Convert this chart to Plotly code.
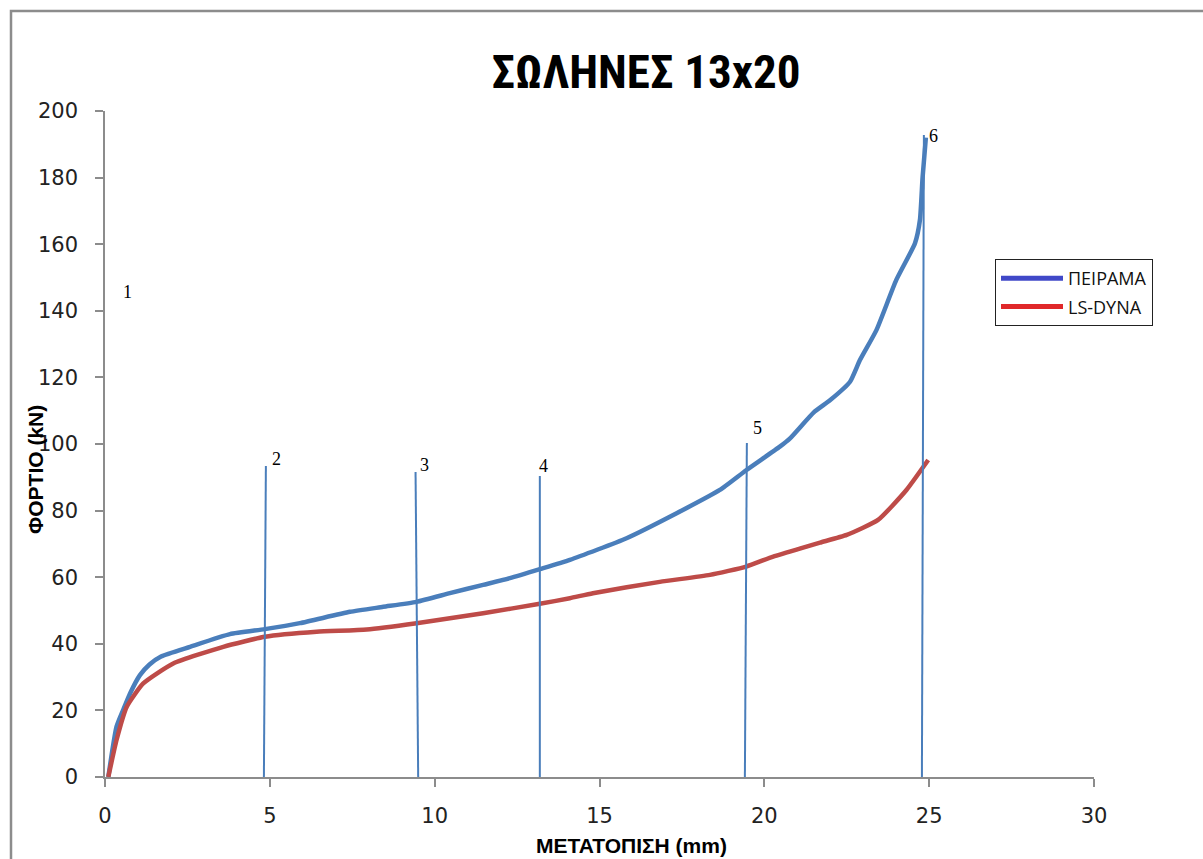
import plotly.graph_objects as go

# ---- data ----
exp_x = [0.1, 0.35, 0.55, 0.76, 1.06, 1.35, 1.7, 2.58, 3.79, 4.85, 5.91, 7.43, 8.44, 9.45, 10.46,
         11.47, 12.28, 13.19, 14.1, 15.82, 17.34, 18.65, 19.46, 20.47, 20.78, 21.5, 22.0,
         22.6, 22.9, 23.4, 24.0, 24.57, 24.72, 24.8, 24.9]
exp_y = [0, 15.1, 20.1, 25.1, 30.6, 33.8, 36.2, 39.1, 42.9, 44.4, 46.2, 49.6, 51.1, 52.6, 55.2,
         57.7, 59.7, 62.4, 65.2, 71.7, 79.2, 86.2, 92.2, 99.2, 101.7, 109.5, 113.2,
         118.7, 125.2, 134.2, 149.2, 160.3, 167.3, 180, 192]

dyna_x = [0.1, 0.35, 0.66, 1.16, 2.07, 3.59, 4.85, 6.42, 7.94, 9.45, 11.47, 13.19, 14.1,
          14.8, 16.83, 18.35, 19.45, 20.27, 21.28, 21.69, 22.5, 23.45, 24.31, 24.97]
dyna_y = [0, 11.1, 21.1, 28.1, 34.1, 39.1, 42.1, 43.6, 44.3, 46.2, 49.2, 52.0, 53.7,
          55.2, 58.6, 60.7, 63.2, 66.2, 69.2, 70.4, 72.7, 77.2, 86.2, 95.2]

# marker lines (photo stages)
mark_x_bottom = [4.82, 9.5, 13.19, 19.41, 24.78]
mark_x_top = [4.88, 9.42, 13.19, 19.47, 24.84]
mark_y_top = [93.4, 91.6, 90.4, 100.3, 192.8]

label_text = ["1", "2", "3", "4", "5", "6"]
label_x = [0.67, 5.2, 9.7, 13.3, 19.78, 25.14]
label_y = [145.6, 95.5, 93.7, 93.4, 104.8, 192.5]

series_names = ["ΠΕΙΡΑΜΑ", "LS-DYNA"]

title_text = "ΣΩΛΗΝΕΣ 13x20"
x_title = "ΜΕΤΑΤΟΠΙΣΗ (mm)"
y_title = "ΦΟΡΤΙΟ (kN)"

BLUE = "#4A7EBB"
RED = "#BE4B48"
NARROW = "Liberation Sans Narrow, Roboto Condensed, Liberation Sans, sans-serif"
AXTITLE = "Liberation Sans, Arial, sans-serif"
TICKFONT = dict(family="DejaVu Sans, Verdana, sans-serif", size=21, color="#222")

fig = go.Figure()

fig.add_trace(go.Scatter(x=exp_x, y=exp_y, mode="lines", name=series_names[0],
                         line=dict(color=BLUE, width=4.5, shape="spline", smoothing=0.5),
                         showlegend=False))
fig.add_trace(go.Scatter(x=dyna_x, y=dyna_y, mode="lines", name=series_names[1],
                         line=dict(color=RED, width=4.5, shape="spline", smoothing=0.5),
                         showlegend=False))

for xb, xt, yt in zip(mark_x_bottom, mark_x_top, mark_y_top):
    fig.add_trace(go.Scatter(x=[xb, xt], y=[0, yt], mode="lines",
                             line=dict(color=BLUE, width=2), showlegend=False,
                             hoverinfo="skip"))

# legend-only entries (Excel legend colours differ from series colours)
fig.add_trace(go.Scatter(x=[None], y=[None], mode="lines", name=series_names[0],
                         line=dict(color="#4048C8", width=5), legendgroup="a"))
fig.add_trace(go.Scatter(x=[None], y=[None], mode="lines", name=series_names[1],
                         line=dict(color="#E0282A", width=5), legendgroup="b"))

for t, lx, ly in zip(label_text, label_x, label_y):
    fig.add_annotation(x=lx, y=ly, text=t, showarrow=False, xanchor="center", yanchor="middle",
                       font=dict(family="Liberation Serif, Times New Roman, serif", size=18, color="black"))

# axis titles
fig.add_annotation(x=(631 - 105) / 989, y=(777 - 845) / 666, xref="paper", yref="paper",
                   text=f"<b>{x_title}</b>", showarrow=False, xanchor="center", yanchor="middle",
                   font=dict(family=AXTITLE, size=21, color="black"))
fig.add_annotation(x=(35 - 105) / 989, y=(777 - 470) / 666, xref="paper", yref="paper",
                   text=f"<b>{y_title}</b>", showarrow=False, xanchor="center", yanchor="middle",
                   textangle=-90, font=dict(family=AXTITLE, size=21, color="black"))

# outer chart frame
fig.add_shape(type="rect", xref="paper", yref="paper",
              x0=(11 - 105) / 989, x1=(1230 - 105) / 989,
              y0=(777 - 890) / 666, y1=(777 - 11) / 666,
              line=dict(color="#8C8C8C", width=2.5))

fig.update_layout(
    width=1203, height=859,
    margin=dict(l=105, r=109, t=111, b=82),
    paper_bgcolor="white", plot_bgcolor="white",
    title=dict(text=f"<b>{title_text}</b>", x=646 / 1203, xanchor="center",
               y=1 - 72 / 859, yanchor="middle", xref="container", yref="container",
               font=dict(family=NARROW, size=47, color="black")),
    legend=dict(x=(995 - 105) / 989, y=(777 - 259) / 666, xanchor="left", yanchor="top",
                bordercolor="#222", borderwidth=1, bgcolor="white",
                font=dict(family="Open Sans, Liberation Sans, sans-serif", size=18, color="#111"),
                tracegroupgap=2, itemwidth=62),
    showlegend=True,
)

fig.update_xaxes(range=[0, 30], tickvals=[0, 5, 10, 15, 20, 25, 30], showgrid=False,
                 zeroline=False, showline=True, linecolor="#8C8C8C", linewidth=1.5,
                 ticks="outside", ticklen=8, tickcolor="#8C8C8C", tickwidth=1.5,
                 ticklabelstandoff=11, tickfont=TICKFONT)
fig.update_yaxes(range=[0, 200], tickvals=list(range(0, 201, 20)), showgrid=False,
                 zeroline=False, showline=True, linecolor="#8C8C8C", linewidth=1.5,
                 ticks="outside", ticklen=8, tickcolor="#8C8C8C", tickwidth=1.5,
                 ticklabelstandoff=13, tickfont=TICKFONT)

fig.write_html("out.html")
